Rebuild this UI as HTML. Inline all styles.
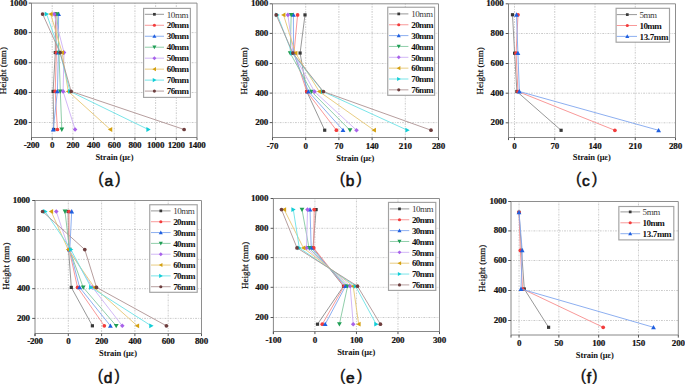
<!DOCTYPE html>
<html><head><meta charset="utf-8"><title>Strain vs Height</title>
<style>
html,body{margin:0;padding:0;background:#fff;}
body{width:685px;height:384px;overflow:hidden;font-family:"Liberation Serif", serif;}
svg{display:block;}
</style></head><body>
<svg width="685" height="384" viewBox="0 0 685 384"><g stroke="#bdbdbd" stroke-width="0.8" stroke-dasharray="0.9,1.2,1.8,1.2"><line x1="52.19" y1="3.1" x2="52.19" y2="137.5"/><line x1="72.88" y1="3.1" x2="72.88" y2="137.5"/><line x1="93.56" y1="3.1" x2="93.56" y2="137.5"/><line x1="114.25" y1="3.1" x2="114.25" y2="137.5"/><line x1="134.94" y1="3.1" x2="134.94" y2="137.5"/><line x1="155.62" y1="3.1" x2="155.62" y2="137.5"/><line x1="176.31" y1="3.1" x2="176.31" y2="137.5"/><line x1="31.5" y1="122.5" x2="197" y2="122.5"/><line x1="31.5" y1="92.5" x2="197" y2="92.5"/><line x1="31.5" y1="62.7" x2="197" y2="62.7"/><line x1="31.5" y1="32.6" x2="197" y2="32.6"/></g>
<path d="M31.5 3.1H197V137.5" fill="none" stroke="#8e8e8e" stroke-width="1.0"/>
<path d="M31.5 3.1V137.5H197" fill="none" stroke="#888" stroke-width="1.0"/>
<g stroke="#555" stroke-width="1.0"><line x1="31.5" y1="137.5" x2="31.5" y2="140.1"/><line x1="52.19" y1="137.5" x2="52.19" y2="140.1"/><line x1="72.88" y1="137.5" x2="72.88" y2="140.1"/><line x1="93.56" y1="137.5" x2="93.56" y2="140.1"/><line x1="114.25" y1="137.5" x2="114.25" y2="140.1"/><line x1="134.94" y1="137.5" x2="134.94" y2="140.1"/><line x1="155.62" y1="137.5" x2="155.62" y2="140.1"/><line x1="176.31" y1="137.5" x2="176.31" y2="140.1"/><line x1="197" y1="137.5" x2="197" y2="140.1"/><line x1="31.5" y1="137.5" x2="31.5" y2="140.1"/><line x1="28.7" y1="122.5" x2="31.5" y2="122.5"/><line x1="28.7" y1="92.5" x2="31.5" y2="92.5"/><line x1="28.7" y1="62.7" x2="31.5" y2="62.7"/><line x1="28.7" y1="32.6" x2="31.5" y2="32.6"/><line x1="28.7" y1="3.1" x2="31.5" y2="3.1"/></g>
<g font-family='"Liberation Serif", serif' font-weight="bold" font-size="9" letter-spacing="-0.2" fill="#111" stroke="#111" stroke-width="0.2"><text x="31.5" y="148.2" text-anchor="middle">-200</text><text x="52.19" y="148.2" text-anchor="middle">0</text><text x="72.88" y="148.2" text-anchor="middle">200</text><text x="93.56" y="148.2" text-anchor="middle">400</text><text x="114.25" y="148.2" text-anchor="middle">600</text><text x="134.94" y="148.2" text-anchor="middle">800</text><text x="155.62" y="148.2" text-anchor="middle">1000</text><text x="176.31" y="148.2" text-anchor="middle">1200</text><text x="197" y="148.2" text-anchor="middle">1400</text><text x="27" y="125" text-anchor="end">200</text><text x="27" y="95" text-anchor="end">400</text><text x="27" y="65.2" text-anchor="end">600</text><text x="27" y="35.1" text-anchor="end">800</text><text x="27" y="5.6" text-anchor="end">1000</text></g>
<text x="114.4" y="160.2" text-anchor="middle" font-family='"Liberation Serif", serif' font-weight="bold" font-size="8.5" letter-spacing="-0.08" fill="#111">Strain (&#956;&#949;)</text>
<text transform="translate(5.8 70.7) rotate(-90)" x="0" y="0" text-anchor="middle" font-family='"Liberation Serif", serif' font-size="9" letter-spacing="0.05" fill="#111" stroke="#111" stroke-width="0.22">Height (mm)</text>
<polyline points="55.5,14.1 55.3,52.6 53.1,91.4 53.8,129.5" fill="none" stroke="#8c8c8c" stroke-width="0.9"/>
<rect x="53.9" y="12.5" width="3.2" height="3.2" fill="#383838"/><rect x="53.7" y="51" width="3.2" height="3.2" fill="#383838"/><rect x="51.5" y="89.8" width="3.2" height="3.2" fill="#383838"/><rect x="52.2" y="127.9" width="3.2" height="3.2" fill="#383838"/>
<polyline points="56,14.1 56.4,52.6 55.2,91.4 57.4,129.5" fill="none" stroke="#f78d8d" stroke-width="0.9"/>
<circle cx="56" cy="14.1" r="1.85" fill="#f23c3c"/><circle cx="56.4" cy="52.6" r="1.85" fill="#f23c3c"/><circle cx="55.2" cy="91.4" r="1.85" fill="#f23c3c"/><circle cx="57.4" cy="129.5" r="1.85" fill="#f23c3c"/>
<polyline points="58.6,14.1 58.4,52.6 57.4,91.4 53.2,129.5" fill="none" stroke="#80a6ee" stroke-width="0.9"/>
<polygon points="58.6,11.7 61,16.02 56.2,16.02" fill="#1f5fe0"/><polygon points="58.4,50.2 60.8,54.52 56,54.52" fill="#1f5fe0"/><polygon points="57.4,89 59.8,93.32 55,93.32" fill="#1f5fe0"/><polygon points="53.2,127.1 55.6,131.42 50.8,131.42" fill="#1f5fe0"/>
<polyline points="57,14.1 59,52.6 60.3,91.4 61.8,129.5" fill="none" stroke="#83c8a0" stroke-width="0.9"/>
<polygon points="57,16.5 59.4,12.18 54.6,12.18" fill="#1f9e55"/><polygon points="59,55 61.4,50.68 56.6,50.68" fill="#1f9e55"/><polygon points="60.3,93.8 62.7,89.48 57.9,89.48" fill="#1f9e55"/><polygon points="61.8,131.9 64.2,127.58 59.4,127.58" fill="#1f9e55"/>
<polyline points="54.2,14.1 64,52.6 63.1,91.4 75.1,129.5" fill="none" stroke="#cdb0f5" stroke-width="0.9"/>
<polygon points="54.2,11.8 56.5,14.1 54.2,16.4 51.9,14.1" fill="#a862ea"/><polygon points="64,50.3 66.3,52.6 64,54.9 61.7,52.6" fill="#a862ea"/><polygon points="63.1,89.1 65.4,91.4 63.1,93.7 60.8,91.4" fill="#a862ea"/><polygon points="75.1,127.2 77.4,129.5 75.1,131.8 72.8,129.5" fill="#a862ea"/>
<polyline points="50.7,14.1 62.1,52.6 68.2,91.4 110.3,129.5" fill="none" stroke="#e6c774" stroke-width="0.9"/>
<polygon points="48.3,14.1 52.62,11.7 52.62,16.5" fill="#d4a010"/><polygon points="59.7,52.6 64.02,50.2 64.02,55" fill="#d4a010"/><polygon points="65.8,91.4 70.12,89 70.12,93.8" fill="#d4a010"/><polygon points="107.9,129.5 112.22,127.1 112.22,131.9" fill="#d4a010"/>
<polyline points="46.6,14.1 60,52.6 70,91.4 148.3,129.5" fill="none" stroke="#6ce2e6" stroke-width="0.9"/>
<polygon points="49,14.1 44.68,11.7 44.68,16.5" fill="#12cdd6"/><polygon points="62.4,52.6 58.08,50.2 58.08,55" fill="#12cdd6"/><polygon points="72.4,91.4 68.08,89 68.08,93.8" fill="#12cdd6"/><polygon points="150.7,129.5 146.38,127.1 146.38,131.9" fill="#12cdd6"/>
<polyline points="42.6,14.1 60.1,52.6 71.2,91.4 184.1,129.5" fill="none" stroke="#ae9393" stroke-width="0.9"/>
<circle cx="42.6" cy="14.1" r="1.85" fill="#6e3e3e"/><circle cx="60.1" cy="52.6" r="1.85" fill="#6e3e3e"/><circle cx="71.2" cy="91.4" r="1.85" fill="#6e3e3e"/><circle cx="184.1" cy="129.5" r="1.85" fill="#6e3e3e"/>
<rect x="143.6" y="8.4" width="46.8" height="89" fill="#fff" stroke="#a2a2a2" stroke-width="1.15"/>
<line x1="144.8" y1="14.3" x2="164" y2="14.3" stroke="#8c8c8c" stroke-width="0.9"/>
<rect x="153.04" y="12.94" width="2.72" height="2.72" fill="#383838"/>
<text x="166.8" y="17.5" font-family='"Liberation Serif", serif' font-size="9" letter-spacing="-0.45" fill="#3a3a3a">10mm</text>
<line x1="144.8" y1="25.27" x2="164" y2="25.27" stroke="#f78d8d" stroke-width="0.9"/>
<circle cx="154.4" cy="25.27" r="1.57" fill="#f23c3c"/>
<text x="166.8" y="28.47" font-family='"Liberation Serif", serif' font-weight="bold" font-size="9" letter-spacing="-0.6" fill="#111">20mm</text>
<line x1="144.8" y1="36.24" x2="164" y2="36.24" stroke="#80a6ee" stroke-width="0.9"/>
<polygon points="154.4,34.2 156.44,37.87 152.36,37.87" fill="#1f5fe0"/>
<text x="166.8" y="39.44" font-family='"Liberation Serif", serif' font-weight="bold" font-size="9" letter-spacing="-0.6" fill="#111">30mm</text>
<line x1="144.8" y1="47.21" x2="164" y2="47.21" stroke="#83c8a0" stroke-width="0.9"/>
<polygon points="154.4,49.25 156.44,45.58 152.36,45.58" fill="#1f9e55"/>
<text x="166.8" y="50.41" font-family='"Liberation Serif", serif' font-weight="bold" font-size="9" letter-spacing="-0.6" fill="#111">40mm</text>
<line x1="144.8" y1="58.18" x2="164" y2="58.18" stroke="#cdb0f5" stroke-width="0.9"/>
<polygon points="154.4,56.23 156.36,58.18 154.4,60.14 152.44,58.18" fill="#a862ea"/>
<text x="166.8" y="61.38" font-family='"Liberation Serif", serif' font-weight="bold" font-size="9" letter-spacing="-0.6" fill="#111">50mm</text>
<line x1="144.8" y1="69.15" x2="164" y2="69.15" stroke="#e6c774" stroke-width="0.9"/>
<polygon points="152.36,69.15 156.03,67.11 156.03,71.19" fill="#d4a010"/>
<text x="166.8" y="72.35" font-family='"Liberation Serif", serif' font-weight="bold" font-size="9" letter-spacing="-0.6" fill="#111">60mm</text>
<line x1="144.8" y1="80.12" x2="164" y2="80.12" stroke="#6ce2e6" stroke-width="0.9"/>
<polygon points="156.44,80.12 152.77,78.08 152.77,82.16" fill="#12cdd6"/>
<text x="166.8" y="83.32" font-family='"Liberation Serif", serif' font-weight="bold" font-size="9" letter-spacing="-0.6" fill="#111">70mm</text>
<line x1="144.8" y1="91.09" x2="164" y2="91.09" stroke="#ae9393" stroke-width="0.9"/>
<circle cx="154.4" cy="91.09" r="1.57" fill="#6e3e3e"/>
<text x="166.8" y="94.29" font-family='"Liberation Serif", serif' font-weight="bold" font-size="9" letter-spacing="-0.6" fill="#111">76mm</text>
<text x="109.45" y="185.1" text-anchor="middle" font-family='"Liberation Sans", sans-serif' font-size="16" fill="#111" stroke="#111" stroke-width="0.3"><tspan dy="-1.5">(</tspan><tspan font-size="15.5" stroke-width="0.6" dx="0.7" dy="1.9">a</tspan><tspan dx="2.2" dy="-1.9">)</tspan></text>
<g stroke="#bdbdbd" stroke-width="0.8" stroke-dasharray="0.9,1.2,1.8,1.2"><line x1="305.7" y1="3.8" x2="305.7" y2="137.5"/><line x1="338.9" y1="3.8" x2="338.9" y2="137.5"/><line x1="372.1" y1="3.8" x2="372.1" y2="137.5"/><line x1="405.3" y1="3.8" x2="405.3" y2="137.5"/><line x1="272.5" y1="122.6" x2="438.5" y2="122.6"/><line x1="272.5" y1="93.1" x2="438.5" y2="93.1"/><line x1="272.5" y1="63.5" x2="438.5" y2="63.5"/><line x1="272.5" y1="33.4" x2="438.5" y2="33.4"/></g>
<path d="M272.5 3.8H438.5V137.5" fill="none" stroke="#8e8e8e" stroke-width="1.0"/>
<path d="M272.5 3.8V137.5H438.5" fill="none" stroke="#888" stroke-width="1.0"/>
<g stroke="#555" stroke-width="1.0"><line x1="272.5" y1="137.5" x2="272.5" y2="140.1"/><line x1="305.7" y1="137.5" x2="305.7" y2="140.1"/><line x1="338.9" y1="137.5" x2="338.9" y2="140.1"/><line x1="372.1" y1="137.5" x2="372.1" y2="140.1"/><line x1="405.3" y1="137.5" x2="405.3" y2="140.1"/><line x1="438.5" y1="137.5" x2="438.5" y2="140.1"/><line x1="272.5" y1="137.5" x2="272.5" y2="140.1"/><line x1="269.7" y1="122.6" x2="272.5" y2="122.6"/><line x1="269.7" y1="93.1" x2="272.5" y2="93.1"/><line x1="269.7" y1="63.5" x2="272.5" y2="63.5"/><line x1="269.7" y1="33.4" x2="272.5" y2="33.4"/><line x1="269.7" y1="3.8" x2="272.5" y2="3.8"/></g>
<g font-family='"Liberation Serif", serif' font-weight="bold" font-size="9" letter-spacing="-0.2" fill="#111" stroke="#111" stroke-width="0.2"><text x="272.5" y="148.7" text-anchor="middle">-70</text><text x="305.7" y="148.7" text-anchor="middle">0</text><text x="338.9" y="148.7" text-anchor="middle">70</text><text x="372.1" y="148.7" text-anchor="middle">140</text><text x="405.3" y="148.7" text-anchor="middle">210</text><text x="438.5" y="148.7" text-anchor="middle">280</text><text x="268.1" y="125.1" text-anchor="end">200</text><text x="268.1" y="95.6" text-anchor="end">400</text><text x="268.1" y="66" text-anchor="end">600</text><text x="268.1" y="35.9" text-anchor="end">800</text><text x="268.1" y="6.3" text-anchor="end">1000</text></g>
<text x="355.3" y="160.8" text-anchor="middle" font-family='"Liberation Serif", serif' font-weight="bold" font-size="8.5" letter-spacing="-0.08" fill="#111">Strain (&#956;&#949;)</text>
<text transform="translate(246.6 70.9) rotate(-90)" x="0" y="0" text-anchor="middle" font-family='"Liberation Serif", serif' font-size="9" letter-spacing="0.05" fill="#111" stroke="#111" stroke-width="0.22">Height (mm)</text>
<polyline points="305,14.9 300.1,53.05 306.8,91.6 324.7,130.2" fill="none" stroke="#8c8c8c" stroke-width="0.9"/>
<rect x="303.4" y="13.3" width="3.2" height="3.2" fill="#383838"/><rect x="298.5" y="51.45" width="3.2" height="3.2" fill="#383838"/><rect x="305.2" y="90" width="3.2" height="3.2" fill="#383838"/><rect x="323.1" y="128.6" width="3.2" height="3.2" fill="#383838"/>
<polyline points="297.6,14.9 294,53.05 306.8,91.6 336.4,130.2" fill="none" stroke="#f78d8d" stroke-width="0.9"/>
<circle cx="297.6" cy="14.9" r="1.85" fill="#f23c3c"/><circle cx="294" cy="53.05" r="1.85" fill="#f23c3c"/><circle cx="306.8" cy="91.6" r="1.85" fill="#f23c3c"/><circle cx="336.4" cy="130.2" r="1.85" fill="#f23c3c"/>
<polyline points="293.4,14.9 293.5,53.05 308.5,91.6 343,130.2" fill="none" stroke="#80a6ee" stroke-width="0.9"/>
<polygon points="293.4,12.5 295.8,16.82 291,16.82" fill="#1f5fe0"/><polygon points="293.5,50.65 295.9,54.97 291.1,54.97" fill="#1f5fe0"/><polygon points="308.5,89.2 310.9,93.52 306.1,93.52" fill="#1f5fe0"/><polygon points="343,127.8 345.4,132.12 340.6,132.12" fill="#1f5fe0"/>
<polyline points="291.2,14.9 290.2,53.05 311.5,91.6 350,130.2" fill="none" stroke="#83c8a0" stroke-width="0.9"/>
<polygon points="291.2,17.3 293.6,12.98 288.8,12.98" fill="#1f9e55"/><polygon points="290.2,55.45 292.6,51.13 287.8,51.13" fill="#1f9e55"/><polygon points="311.5,94 313.9,89.68 309.1,89.68" fill="#1f9e55"/><polygon points="350,132.6 352.4,128.28 347.6,128.28" fill="#1f9e55"/>
<polyline points="287.9,14.9 293,53.05 314.5,91.6 356.5,130.2" fill="none" stroke="#cdb0f5" stroke-width="0.9"/>
<polygon points="287.9,12.6 290.2,14.9 287.9,17.2 285.6,14.9" fill="#a862ea"/><polygon points="293,50.75 295.3,53.05 293,55.35 290.7,53.05" fill="#a862ea"/><polygon points="314.5,89.3 316.8,91.6 314.5,93.9 312.2,91.6" fill="#a862ea"/><polygon points="356.5,127.9 358.8,130.2 356.5,132.5 354.2,130.2" fill="#a862ea"/>
<polyline points="283.5,14.9 295.5,53.05 319.3,91.6 374,130.2" fill="none" stroke="#e6c774" stroke-width="0.9"/>
<polygon points="281.1,14.9 285.42,12.5 285.42,17.3" fill="#d4a010"/><polygon points="293.1,53.05 297.42,50.65 297.42,55.45" fill="#d4a010"/><polygon points="316.9,91.6 321.22,89.2 321.22,94" fill="#d4a010"/><polygon points="371.6,130.2 375.92,127.8 375.92,132.6" fill="#d4a010"/>
<polyline points="277.3,14.9 292,53.05 323,91.6 407.3,130.2" fill="none" stroke="#6ce2e6" stroke-width="0.9"/>
<polygon points="279.7,14.9 275.38,12.5 275.38,17.3" fill="#12cdd6"/><polygon points="294.4,53.05 290.08,50.65 290.08,55.45" fill="#12cdd6"/><polygon points="325.4,91.6 321.08,89.2 321.08,94" fill="#12cdd6"/><polygon points="409.7,130.2 405.38,127.8 405.38,132.6" fill="#12cdd6"/>
<polyline points="276.2,14.9 292.8,53.05 323.4,91.6 431,130.2" fill="none" stroke="#ae9393" stroke-width="0.9"/>
<circle cx="276.2" cy="14.9" r="1.85" fill="#6e3e3e"/><circle cx="292.8" cy="53.05" r="1.85" fill="#6e3e3e"/><circle cx="323.4" cy="91.6" r="1.85" fill="#6e3e3e"/><circle cx="431" cy="130.2" r="1.85" fill="#6e3e3e"/>
<rect x="387.75" y="7.25" width="46.85" height="88.05" fill="#fff" stroke="#a2a2a2" stroke-width="1.15"/>
<line x1="389" y1="13.9" x2="408.4" y2="13.9" stroke="#8c8c8c" stroke-width="0.9"/>
<rect x="397.39" y="12.54" width="2.72" height="2.72" fill="#383838"/>
<text x="411.25" y="17.1" font-family='"Liberation Serif", serif' font-size="9" letter-spacing="-0.45" fill="#3a3a3a">10mm</text>
<line x1="389" y1="24.75" x2="408.4" y2="24.75" stroke="#f78d8d" stroke-width="0.9"/>
<circle cx="398.75" cy="24.75" r="1.57" fill="#f23c3c"/>
<text x="411.25" y="27.95" font-family='"Liberation Serif", serif' font-weight="bold" font-size="9" letter-spacing="-0.6" fill="#111">20mm</text>
<line x1="389" y1="35.6" x2="408.4" y2="35.6" stroke="#80a6ee" stroke-width="0.9"/>
<polygon points="398.75,33.56 400.79,37.23 396.71,37.23" fill="#1f5fe0"/>
<text x="411.25" y="38.8" font-family='"Liberation Serif", serif' font-weight="bold" font-size="9" letter-spacing="-0.6" fill="#111">30mm</text>
<line x1="389" y1="46.45" x2="408.4" y2="46.45" stroke="#83c8a0" stroke-width="0.9"/>
<polygon points="398.75,48.49 400.79,44.82 396.71,44.82" fill="#1f9e55"/>
<text x="411.25" y="49.65" font-family='"Liberation Serif", serif' font-weight="bold" font-size="9" letter-spacing="-0.6" fill="#111">40mm</text>
<line x1="389" y1="57.3" x2="408.4" y2="57.3" stroke="#cdb0f5" stroke-width="0.9"/>
<polygon points="398.75,55.34 400.7,57.3 398.75,59.25 396.8,57.3" fill="#a862ea"/>
<text x="411.25" y="60.5" font-family='"Liberation Serif", serif' font-weight="bold" font-size="9" letter-spacing="-0.6" fill="#111">50mm</text>
<line x1="389" y1="68.15" x2="408.4" y2="68.15" stroke="#e6c774" stroke-width="0.9"/>
<polygon points="396.71,68.15 400.38,66.11 400.38,70.19" fill="#d4a010"/>
<text x="411.25" y="71.35" font-family='"Liberation Serif", serif' font-weight="bold" font-size="9" letter-spacing="-0.6" fill="#111">60mm</text>
<line x1="389" y1="79" x2="408.4" y2="79" stroke="#6ce2e6" stroke-width="0.9"/>
<polygon points="400.79,79 397.12,76.96 397.12,81.04" fill="#12cdd6"/>
<text x="411.25" y="82.2" font-family='"Liberation Serif", serif' font-weight="bold" font-size="9" letter-spacing="-0.6" fill="#111">70mm</text>
<line x1="389" y1="89.85" x2="408.4" y2="89.85" stroke="#ae9393" stroke-width="0.9"/>
<circle cx="398.75" cy="89.85" r="1.57" fill="#6e3e3e"/>
<text x="411.25" y="93.05" font-family='"Liberation Serif", serif' font-weight="bold" font-size="9" letter-spacing="-0.6" fill="#111">76mm</text>
<text x="350.75" y="185.2" text-anchor="middle" font-family='"Liberation Sans", sans-serif' font-size="16" fill="#111" stroke="#111" stroke-width="0.3"><tspan dy="-1.5">(</tspan><tspan font-size="15.5" stroke-width="0.6" dx="0.7" dy="1.9">b</tspan><tspan dx="2.2" dy="-1.9">)</tspan></text>
<g stroke="#bdbdbd" stroke-width="0.8" stroke-dasharray="0.9,1.2,1.8,1.2"><line x1="514.51" y1="3.8" x2="514.51" y2="137.5"/><line x1="554.76" y1="3.8" x2="554.76" y2="137.5"/><line x1="595" y1="3.8" x2="595" y2="137.5"/><line x1="635.25" y1="3.8" x2="635.25" y2="137.5"/><line x1="508.5" y1="122.8" x2="675.5" y2="122.8"/><line x1="508.5" y1="93.2" x2="675.5" y2="93.2"/><line x1="508.5" y1="63.5" x2="675.5" y2="63.5"/><line x1="508.5" y1="33.5" x2="675.5" y2="33.5"/></g>
<path d="M508.5 3.8H675.5V137.5" fill="none" stroke="#8e8e8e" stroke-width="1.0"/>
<path d="M508.5 3.8V137.5H675.5" fill="none" stroke="#888" stroke-width="1.0"/>
<g stroke="#555" stroke-width="1.0"><line x1="514.51" y1="137.5" x2="514.51" y2="140.1"/><line x1="554.76" y1="137.5" x2="554.76" y2="140.1"/><line x1="595" y1="137.5" x2="595" y2="140.1"/><line x1="635.25" y1="137.5" x2="635.25" y2="140.1"/><line x1="675.5" y1="137.5" x2="675.5" y2="140.1"/><line x1="508.5" y1="137.5" x2="508.5" y2="140.1"/><line x1="505.7" y1="122.8" x2="508.5" y2="122.8"/><line x1="505.7" y1="93.2" x2="508.5" y2="93.2"/><line x1="505.7" y1="63.5" x2="508.5" y2="63.5"/><line x1="505.7" y1="33.5" x2="508.5" y2="33.5"/><line x1="505.7" y1="3.8" x2="508.5" y2="3.8"/></g>
<g font-family='"Liberation Serif", serif' font-weight="bold" font-size="9" letter-spacing="-0.2" fill="#111" stroke="#111" stroke-width="0.2"><text x="514.51" y="148.7" text-anchor="middle">0</text><text x="554.76" y="148.7" text-anchor="middle">70</text><text x="595" y="148.7" text-anchor="middle">140</text><text x="635.25" y="148.7" text-anchor="middle">210</text><text x="675.5" y="148.7" text-anchor="middle">280</text><text x="503.5" y="125.3" text-anchor="end">200</text><text x="503.5" y="95.7" text-anchor="end">400</text><text x="503.5" y="66" text-anchor="end">600</text><text x="503.5" y="36" text-anchor="end">800</text><text x="503.5" y="6.3" text-anchor="end">1000</text></g>
<text x="591.8" y="160.4" text-anchor="middle" font-family='"Liberation Serif", serif' font-weight="bold" font-size="8.5" letter-spacing="-0.08" fill="#111">Strain (&#956;&#949;)</text>
<text transform="translate(482.7 70.9) rotate(-90)" x="0" y="0" text-anchor="middle" font-family='"Liberation Serif", serif' font-size="9" letter-spacing="0.05" fill="#111" stroke="#111" stroke-width="0.22">Height (mm)</text>
<polyline points="512.5,14.75 514.6,53.2 516.9,91.5 561.1,130.3" fill="none" stroke="#8c8c8c" stroke-width="0.9"/>
<rect x="510.9" y="13.15" width="3.2" height="3.2" fill="#383838"/><rect x="513" y="51.6" width="3.2" height="3.2" fill="#383838"/><rect x="515.3" y="89.9" width="3.2" height="3.2" fill="#383838"/><rect x="559.5" y="128.7" width="3.2" height="3.2" fill="#383838"/>
<polyline points="518,14.75 516.1,53.2 517.9,91.5 614.9,130.3" fill="none" stroke="#f78d8d" stroke-width="0.9"/>
<circle cx="518" cy="14.75" r="1.85" fill="#f23c3c"/><circle cx="516.1" cy="53.2" r="1.85" fill="#f23c3c"/><circle cx="517.9" cy="91.5" r="1.85" fill="#f23c3c"/><circle cx="614.9" cy="130.3" r="1.85" fill="#f23c3c"/>
<polyline points="516.5,14.75 517.9,53.2 519.4,91.5 658.6,130.3" fill="none" stroke="#80a6ee" stroke-width="0.9"/>
<polygon points="516.5,12.35 518.9,16.67 514.1,16.67" fill="#1f5fe0"/><polygon points="517.9,50.8 520.3,55.12 515.5,55.12" fill="#1f5fe0"/><polygon points="519.4,89.1 521.8,93.42 517,93.42" fill="#1f5fe0"/><polygon points="658.6,127.9 661,132.22 656.2,132.22" fill="#1f5fe0"/>
<rect x="616.1" y="8.3" width="53.4" height="33.9" fill="#fff" stroke="#a2a2a2" stroke-width="1.15"/>
<line x1="616.7" y1="14.6" x2="637" y2="14.6" stroke="#8c8c8c" stroke-width="0.9"/>
<rect x="625.94" y="13.24" width="2.72" height="2.72" fill="#383838"/>
<text x="639.5" y="17.8" font-family='"Liberation Serif", serif' font-size="9" letter-spacing="-0.45" fill="#3a3a3a">5mm</text>
<line x1="616.7" y1="25.5" x2="637" y2="25.5" stroke="#f78d8d" stroke-width="0.9"/>
<circle cx="627.3" cy="25.5" r="1.57" fill="#f23c3c"/>
<text x="639.5" y="28.7" font-family='"Liberation Serif", serif' font-weight="bold" font-size="9" letter-spacing="-0.6" fill="#111">10mm</text>
<line x1="616.7" y1="36.4" x2="637" y2="36.4" stroke="#80a6ee" stroke-width="0.9"/>
<polygon points="627.3,34.36 629.34,38.03 625.26,38.03" fill="#1f5fe0"/>
<text x="639.5" y="39.6" font-family='"Liberation Serif", serif' font-weight="bold" font-size="9" letter-spacing="-0.35" fill="#111">13.7mm</text>
<text x="586.55" y="185.2" text-anchor="middle" font-family='"Liberation Sans", sans-serif' font-size="16" fill="#111" stroke="#111" stroke-width="0.3"><tspan dy="-1.5">(</tspan><tspan font-size="15.5" stroke-width="0.6" dx="0.7" dy="1.9">c</tspan><tspan dx="2.2" dy="-1.9">)</tspan></text>
<g stroke="#bdbdbd" stroke-width="0.8" stroke-dasharray="0.9,1.2,1.8,1.2"><line x1="68.3" y1="200.5" x2="68.3" y2="333.5"/><line x1="101.6" y1="200.5" x2="101.6" y2="333.5"/><line x1="134.9" y1="200.5" x2="134.9" y2="333.5"/><line x1="168.2" y1="200.5" x2="168.2" y2="333.5"/><line x1="35" y1="318.4" x2="201.5" y2="318.4"/><line x1="35" y1="288.7" x2="201.5" y2="288.7"/><line x1="35" y1="259.4" x2="201.5" y2="259.4"/><line x1="35" y1="229.5" x2="201.5" y2="229.5"/></g>
<path d="M35 200.5H201.5V333.5" fill="none" stroke="#8e8e8e" stroke-width="1.0"/>
<path d="M35 200.5V333.5H201.5" fill="none" stroke="#888" stroke-width="1.0"/>
<g stroke="#555" stroke-width="1.0"><line x1="35" y1="333.5" x2="35" y2="336.1"/><line x1="68.3" y1="333.5" x2="68.3" y2="336.1"/><line x1="101.6" y1="333.5" x2="101.6" y2="336.1"/><line x1="134.9" y1="333.5" x2="134.9" y2="336.1"/><line x1="168.2" y1="333.5" x2="168.2" y2="336.1"/><line x1="201.5" y1="333.5" x2="201.5" y2="336.1"/><line x1="35" y1="333.5" x2="35" y2="336.1"/><line x1="32.2" y1="318.4" x2="35" y2="318.4"/><line x1="32.2" y1="288.7" x2="35" y2="288.7"/><line x1="32.2" y1="259.4" x2="35" y2="259.4"/><line x1="32.2" y1="229.5" x2="35" y2="229.5"/><line x1="32.2" y1="200.5" x2="35" y2="200.5"/></g>
<g font-family='"Liberation Serif", serif' font-weight="bold" font-size="9" letter-spacing="-0.2" fill="#111" stroke="#111" stroke-width="0.2"><text x="35" y="344.4" text-anchor="middle">-200</text><text x="68.3" y="344.4" text-anchor="middle">0</text><text x="101.6" y="344.4" text-anchor="middle">200</text><text x="134.9" y="344.4" text-anchor="middle">400</text><text x="168.2" y="344.4" text-anchor="middle">600</text><text x="201.5" y="344.4" text-anchor="middle">800</text><text x="29.9" y="320.9" text-anchor="end">200</text><text x="29.9" y="291.2" text-anchor="end">400</text><text x="29.9" y="261.9" text-anchor="end">600</text><text x="29.9" y="232" text-anchor="end">800</text><text x="29.9" y="203" text-anchor="end">1000</text></g>
<text x="118" y="356.1" text-anchor="middle" font-family='"Liberation Serif", serif' font-weight="bold" font-size="8.5" letter-spacing="-0.08" fill="#111">Strain (&#956;&#949;)</text>
<text transform="translate(9.2 266.2) rotate(-90)" x="0" y="0" text-anchor="middle" font-family='"Liberation Serif", serif' font-size="9" letter-spacing="0.05" fill="#111" stroke="#111" stroke-width="0.22">Height (mm)</text>
<polyline points="68.1,211.5 68.6,249.6 71.3,287.4 92.4,325.8" fill="none" stroke="#8c8c8c" stroke-width="0.9"/>
<rect x="66.5" y="209.9" width="3.2" height="3.2" fill="#383838"/><rect x="67" y="248" width="3.2" height="3.2" fill="#383838"/><rect x="69.7" y="285.8" width="3.2" height="3.2" fill="#383838"/><rect x="90.8" y="324.2" width="3.2" height="3.2" fill="#383838"/>
<polyline points="69,211.5 69.2,249.6 77.5,287.4 104.3,325.8" fill="none" stroke="#f78d8d" stroke-width="0.9"/>
<circle cx="69" cy="211.5" r="1.85" fill="#f23c3c"/><circle cx="69.2" cy="249.6" r="1.85" fill="#f23c3c"/><circle cx="77.5" cy="287.4" r="1.85" fill="#f23c3c"/><circle cx="104.3" cy="325.8" r="1.85" fill="#f23c3c"/>
<polyline points="71.7,211.5 69.8,249.6 79.6,287.4 110.4,325.8" fill="none" stroke="#80a6ee" stroke-width="0.9"/>
<polygon points="71.7,209.1 74.1,213.42 69.3,213.42" fill="#1f5fe0"/><polygon points="69.8,247.2 72.2,251.52 67.4,251.52" fill="#1f5fe0"/><polygon points="79.6,285 82,289.32 77.2,289.32" fill="#1f5fe0"/><polygon points="110.4,323.4 112.8,327.72 108,327.72" fill="#1f5fe0"/>
<polyline points="65,211.5 69.5,249.6 83.2,287.4 116.2,325.8" fill="none" stroke="#83c8a0" stroke-width="0.9"/>
<polygon points="65,213.9 67.4,209.58 62.6,209.58" fill="#1f9e55"/><polygon points="69.5,252 71.9,247.68 67.1,247.68" fill="#1f9e55"/><polygon points="83.2,289.8 85.6,285.48 80.8,285.48" fill="#1f9e55"/><polygon points="116.2,328.2 118.6,323.88 113.8,323.88" fill="#1f9e55"/>
<polyline points="56.3,211.5 69,249.6 92.5,287.4 122.3,325.8" fill="none" stroke="#cdb0f5" stroke-width="0.9"/>
<polygon points="56.3,209.2 58.6,211.5 56.3,213.8 54,211.5" fill="#a862ea"/><polygon points="69,247.3 71.3,249.6 69,251.9 66.7,249.6" fill="#a862ea"/><polygon points="92.5,285.1 94.8,287.4 92.5,289.7 90.2,287.4" fill="#a862ea"/><polygon points="122.3,323.5 124.6,325.8 122.3,328.1 120,325.8" fill="#a862ea"/>
<polyline points="51.2,211.5 68.2,249.6 94.3,287.4 137.2,325.8" fill="none" stroke="#e6c774" stroke-width="0.9"/>
<polygon points="48.8,211.5 53.12,209.1 53.12,213.9" fill="#d4a010"/><polygon points="65.8,249.6 70.12,247.2 70.12,252" fill="#d4a010"/><polygon points="91.9,287.4 96.22,285 96.22,289.8" fill="#d4a010"/><polygon points="134.8,325.8 139.12,323.4 139.12,328.2" fill="#d4a010"/>
<polyline points="45.2,211.5 70.9,249.6 91,287.4 151.2,325.8" fill="none" stroke="#6ce2e6" stroke-width="0.9"/>
<polygon points="47.6,211.5 43.28,209.1 43.28,213.9" fill="#12cdd6"/><polygon points="73.3,249.6 68.98,247.2 68.98,252" fill="#12cdd6"/><polygon points="93.4,287.4 89.08,285 89.08,289.8" fill="#12cdd6"/><polygon points="153.6,325.8 149.28,323.4 149.28,328.2" fill="#12cdd6"/>
<polyline points="42.6,211.5 84.8,249.6 96.5,287.4 166.4,325.8" fill="none" stroke="#ae9393" stroke-width="0.9"/>
<circle cx="42.6" cy="211.5" r="1.85" fill="#6e3e3e"/><circle cx="84.8" cy="249.6" r="1.85" fill="#6e3e3e"/><circle cx="96.5" cy="287.4" r="1.85" fill="#6e3e3e"/><circle cx="166.4" cy="325.8" r="1.85" fill="#6e3e3e"/>
<rect x="149.75" y="204.75" width="47.45" height="87.55" fill="#fff" stroke="#a2a2a2" stroke-width="1.15"/>
<line x1="151" y1="210.9" x2="170.6" y2="210.9" stroke="#8c8c8c" stroke-width="0.9"/>
<rect x="159.44" y="209.54" width="2.72" height="2.72" fill="#383838"/>
<text x="173.2" y="214.1" font-family='"Liberation Serif", serif' font-size="9" letter-spacing="-0.45" fill="#3a3a3a">10mm</text>
<line x1="151" y1="221.73" x2="170.6" y2="221.73" stroke="#f78d8d" stroke-width="0.9"/>
<circle cx="160.8" cy="221.73" r="1.57" fill="#f23c3c"/>
<text x="173.2" y="224.93" font-family='"Liberation Serif", serif' font-weight="bold" font-size="9" letter-spacing="-0.6" fill="#111">20mm</text>
<line x1="151" y1="232.56" x2="170.6" y2="232.56" stroke="#80a6ee" stroke-width="0.9"/>
<polygon points="160.8,230.52 162.84,234.19 158.76,234.19" fill="#1f5fe0"/>
<text x="173.2" y="235.76" font-family='"Liberation Serif", serif' font-weight="bold" font-size="9" letter-spacing="-0.6" fill="#111">30mm</text>
<line x1="151" y1="243.39" x2="170.6" y2="243.39" stroke="#83c8a0" stroke-width="0.9"/>
<polygon points="160.8,245.43 162.84,241.76 158.76,241.76" fill="#1f9e55"/>
<text x="173.2" y="246.59" font-family='"Liberation Serif", serif' font-weight="bold" font-size="9" letter-spacing="-0.6" fill="#111">40mm</text>
<line x1="151" y1="254.22" x2="170.6" y2="254.22" stroke="#cdb0f5" stroke-width="0.9"/>
<polygon points="160.8,252.26 162.76,254.22 160.8,256.18 158.84,254.22" fill="#a862ea"/>
<text x="173.2" y="257.42" font-family='"Liberation Serif", serif' font-weight="bold" font-size="9" letter-spacing="-0.6" fill="#111">50mm</text>
<line x1="151" y1="265.05" x2="170.6" y2="265.05" stroke="#e6c774" stroke-width="0.9"/>
<polygon points="158.76,265.05 162.43,263.01 162.43,267.09" fill="#d4a010"/>
<text x="173.2" y="268.25" font-family='"Liberation Serif", serif' font-weight="bold" font-size="9" letter-spacing="-0.6" fill="#111">60mm</text>
<line x1="151" y1="275.88" x2="170.6" y2="275.88" stroke="#6ce2e6" stroke-width="0.9"/>
<polygon points="162.84,275.88 159.17,273.84 159.17,277.92" fill="#12cdd6"/>
<text x="173.2" y="279.08" font-family='"Liberation Serif", serif' font-weight="bold" font-size="9" letter-spacing="-0.6" fill="#111">70mm</text>
<line x1="151" y1="286.71" x2="170.6" y2="286.71" stroke="#ae9393" stroke-width="0.9"/>
<circle cx="160.8" cy="286.71" r="1.57" fill="#6e3e3e"/>
<text x="173.2" y="289.91" font-family='"Liberation Serif", serif' font-weight="bold" font-size="9" letter-spacing="-0.6" fill="#111">76mm</text>
<text x="108.75" y="382.2" text-anchor="middle" font-family='"Liberation Sans", sans-serif' font-size="16" fill="#111" stroke="#111" stroke-width="0.3"><tspan dy="-1.5">(</tspan><tspan font-size="15.5" stroke-width="0.6" dx="0.7" dy="1.9">d</tspan><tspan dx="2.2" dy="-1.9">)</tspan></text>
<g stroke="#bdbdbd" stroke-width="0.8" stroke-dasharray="0.9,1.2,1.8,1.2"><line x1="314.92" y1="198.5" x2="314.92" y2="331.5"/><line x1="356.45" y1="198.5" x2="356.45" y2="331.5"/><line x1="397.98" y1="198.5" x2="397.98" y2="331.5"/><line x1="273.4" y1="317.5" x2="439.5" y2="317.5"/><line x1="273.4" y1="287.3" x2="439.5" y2="287.3"/><line x1="273.4" y1="257.6" x2="439.5" y2="257.6"/><line x1="273.4" y1="228.3" x2="439.5" y2="228.3"/></g>
<path d="M273.4 198.5H439.5V331.5" fill="none" stroke="#8e8e8e" stroke-width="1.0"/>
<path d="M273.4 198.5V331.5H439.5" fill="none" stroke="#888" stroke-width="1.0"/>
<g stroke="#555" stroke-width="1.0"><line x1="273.4" y1="331.5" x2="273.4" y2="334.1"/><line x1="314.92" y1="331.5" x2="314.92" y2="334.1"/><line x1="356.45" y1="331.5" x2="356.45" y2="334.1"/><line x1="397.98" y1="331.5" x2="397.98" y2="334.1"/><line x1="439.5" y1="331.5" x2="439.5" y2="334.1"/><line x1="273.4" y1="331.5" x2="273.4" y2="334.1"/><line x1="270.6" y1="317.5" x2="273.4" y2="317.5"/><line x1="270.6" y1="287.3" x2="273.4" y2="287.3"/><line x1="270.6" y1="257.6" x2="273.4" y2="257.6"/><line x1="270.6" y1="228.3" x2="273.4" y2="228.3"/><line x1="270.6" y1="198.5" x2="273.4" y2="198.5"/></g>
<g font-family='"Liberation Serif", serif' font-weight="bold" font-size="9" letter-spacing="-0.2" fill="#111" stroke="#111" stroke-width="0.2"><text x="273.4" y="343" text-anchor="middle">-100</text><text x="314.92" y="343" text-anchor="middle">0</text><text x="356.45" y="343" text-anchor="middle">100</text><text x="397.98" y="343" text-anchor="middle">200</text><text x="439.5" y="343" text-anchor="middle">300</text><text x="268.2" y="320" text-anchor="end">200</text><text x="268.2" y="289.8" text-anchor="end">400</text><text x="268.2" y="260.1" text-anchor="end">600</text><text x="268.2" y="230.8" text-anchor="end">800</text><text x="268.2" y="201" text-anchor="end">1000</text></g>
<text x="356.2" y="355.3" text-anchor="middle" font-family='"Liberation Serif", serif' font-weight="bold" font-size="8.5" letter-spacing="-0.08" fill="#111">Strain (&#956;&#949;)</text>
<text transform="translate(247.5 265.4) rotate(-90)" x="0" y="0" text-anchor="middle" font-family='"Liberation Serif", serif' font-size="9" letter-spacing="0.05" fill="#111" stroke="#111" stroke-width="0.22">Height (mm)</text>
<polyline points="316.1,209.6 313,247.9 343.5,286.2 317.5,324.2" fill="none" stroke="#8c8c8c" stroke-width="0.9"/>
<rect x="314.5" y="208" width="3.2" height="3.2" fill="#383838"/><rect x="311.4" y="246.3" width="3.2" height="3.2" fill="#383838"/><rect x="341.9" y="284.6" width="3.2" height="3.2" fill="#383838"/><rect x="315.9" y="322.6" width="3.2" height="3.2" fill="#383838"/>
<polyline points="314.2,209.6 313.7,247.9 344.1,286.2 322.3,324.2" fill="none" stroke="#f78d8d" stroke-width="0.9"/>
<circle cx="314.2" cy="209.6" r="1.85" fill="#f23c3c"/><circle cx="313.7" cy="247.9" r="1.85" fill="#f23c3c"/><circle cx="344.1" cy="286.2" r="1.85" fill="#f23c3c"/><circle cx="322.3" cy="324.2" r="1.85" fill="#f23c3c"/>
<polyline points="310,209.6 311.2,247.9 345.5,286.2 325.2,324.2" fill="none" stroke="#80a6ee" stroke-width="0.9"/>
<polygon points="310,207.2 312.4,211.52 307.6,211.52" fill="#1f5fe0"/><polygon points="311.2,245.5 313.6,249.82 308.8,249.82" fill="#1f5fe0"/><polygon points="345.5,283.8 347.9,288.12 343.1,288.12" fill="#1f5fe0"/><polygon points="325.2,321.8 327.6,326.12 322.8,326.12" fill="#1f5fe0"/>
<polyline points="302,209.6 309,247.9 347.6,286.2 339.4,324.2" fill="none" stroke="#83c8a0" stroke-width="0.9"/>
<polygon points="302,212 304.4,207.68 299.6,207.68" fill="#1f9e55"/><polygon points="309,250.3 311.4,245.98 306.6,245.98" fill="#1f9e55"/><polygon points="347.6,288.6 350,284.28 345.2,284.28" fill="#1f9e55"/><polygon points="339.4,326.6 341.8,322.28 337,322.28" fill="#1f9e55"/>
<polyline points="307.5,209.6 306.5,247.9 350.2,286.2 353.2,324.2" fill="none" stroke="#cdb0f5" stroke-width="0.9"/>
<polygon points="307.5,207.3 309.8,209.6 307.5,211.9 305.2,209.6" fill="#a862ea"/><polygon points="306.5,245.6 308.8,247.9 306.5,250.2 304.2,247.9" fill="#a862ea"/><polygon points="350.2,283.9 352.5,286.2 350.2,288.5 347.9,286.2" fill="#a862ea"/><polygon points="353.2,321.9 355.5,324.2 353.2,326.5 350.9,324.2" fill="#a862ea"/>
<polyline points="284.2,209.6 303.4,247.9 353.2,286.2 358.7,324.2" fill="none" stroke="#e6c774" stroke-width="0.9"/>
<polygon points="281.8,209.6 286.12,207.2 286.12,212" fill="#d4a010"/><polygon points="301,247.9 305.32,245.5 305.32,250.3" fill="#d4a010"/><polygon points="350.8,286.2 355.12,283.8 355.12,288.6" fill="#d4a010"/><polygon points="356.3,324.2 360.62,321.8 360.62,326.6" fill="#d4a010"/>
<polyline points="293.3,209.6 299.3,247.9 355.6,286.2 376.2,324.2" fill="none" stroke="#6ce2e6" stroke-width="0.9"/>
<polygon points="295.7,209.6 291.38,207.2 291.38,212" fill="#12cdd6"/><polygon points="301.7,247.9 297.38,245.5 297.38,250.3" fill="#12cdd6"/><polygon points="358,286.2 353.68,283.8 353.68,288.6" fill="#12cdd6"/><polygon points="378.6,324.2 374.28,321.8 374.28,326.6" fill="#12cdd6"/>
<polyline points="281.5,209.6 297,247.9 357.5,286.2 380.4,324.2" fill="none" stroke="#ae9393" stroke-width="0.9"/>
<circle cx="281.5" cy="209.6" r="1.85" fill="#6e3e3e"/><circle cx="297" cy="247.9" r="1.85" fill="#6e3e3e"/><circle cx="357.5" cy="286.2" r="1.85" fill="#6e3e3e"/><circle cx="380.4" cy="324.2" r="1.85" fill="#6e3e3e"/>
<rect x="388.5" y="202.4" width="47.3" height="88" fill="#fff" stroke="#a2a2a2" stroke-width="1.15"/>
<line x1="389.75" y1="208.9" x2="409.25" y2="208.9" stroke="#8c8c8c" stroke-width="0.9"/>
<rect x="398.14" y="207.54" width="2.72" height="2.72" fill="#383838"/>
<text x="411.9" y="212.1" font-family='"Liberation Serif", serif' font-size="9" letter-spacing="-0.45" fill="#3a3a3a">10mm</text>
<line x1="389.75" y1="219.76" x2="409.25" y2="219.76" stroke="#f78d8d" stroke-width="0.9"/>
<circle cx="399.5" cy="219.76" r="1.57" fill="#f23c3c"/>
<text x="411.9" y="222.96" font-family='"Liberation Serif", serif' font-weight="bold" font-size="9" letter-spacing="-0.6" fill="#111">20mm</text>
<line x1="389.75" y1="230.62" x2="409.25" y2="230.62" stroke="#80a6ee" stroke-width="0.9"/>
<polygon points="399.5,228.58 401.54,232.25 397.46,232.25" fill="#1f5fe0"/>
<text x="411.9" y="233.82" font-family='"Liberation Serif", serif' font-weight="bold" font-size="9" letter-spacing="-0.6" fill="#111">30mm</text>
<line x1="389.75" y1="241.48" x2="409.25" y2="241.48" stroke="#83c8a0" stroke-width="0.9"/>
<polygon points="399.5,243.52 401.54,239.85 397.46,239.85" fill="#1f9e55"/>
<text x="411.9" y="244.68" font-family='"Liberation Serif", serif' font-weight="bold" font-size="9" letter-spacing="-0.6" fill="#111">40mm</text>
<line x1="389.75" y1="252.34" x2="409.25" y2="252.34" stroke="#cdb0f5" stroke-width="0.9"/>
<polygon points="399.5,250.38 401.45,252.34 399.5,254.3 397.55,252.34" fill="#a862ea"/>
<text x="411.9" y="255.54" font-family='"Liberation Serif", serif' font-weight="bold" font-size="9" letter-spacing="-0.6" fill="#111">50mm</text>
<line x1="389.75" y1="263.2" x2="409.25" y2="263.2" stroke="#e6c774" stroke-width="0.9"/>
<polygon points="397.46,263.2 401.13,261.16 401.13,265.24" fill="#d4a010"/>
<text x="411.9" y="266.4" font-family='"Liberation Serif", serif' font-weight="bold" font-size="9" letter-spacing="-0.6" fill="#111">60mm</text>
<line x1="389.75" y1="274.06" x2="409.25" y2="274.06" stroke="#6ce2e6" stroke-width="0.9"/>
<polygon points="401.54,274.06 397.87,272.02 397.87,276.1" fill="#12cdd6"/>
<text x="411.9" y="277.26" font-family='"Liberation Serif", serif' font-weight="bold" font-size="9" letter-spacing="-0.6" fill="#111">70mm</text>
<line x1="389.75" y1="284.92" x2="409.25" y2="284.92" stroke="#ae9393" stroke-width="0.9"/>
<circle cx="399.5" cy="284.92" r="1.57" fill="#6e3e3e"/>
<text x="411.9" y="288.12" font-family='"Liberation Serif", serif' font-weight="bold" font-size="9" letter-spacing="-0.6" fill="#111">76mm</text>
<text x="351.15" y="382.2" text-anchor="middle" font-family='"Liberation Sans", sans-serif' font-size="16" fill="#111" stroke="#111" stroke-width="0.3"><tspan dy="-1.5">(</tspan><tspan font-size="15.5" stroke-width="0.6" dx="0.7" dy="1.9">e</tspan><tspan dx="2.2" dy="-1.9">)</tspan></text>
<g stroke="#bdbdbd" stroke-width="0.8" stroke-dasharray="0.9,1.2,1.8,1.2"><line x1="519.04" y1="201.5" x2="519.04" y2="335"/><line x1="558.86" y1="201.5" x2="558.86" y2="335"/><line x1="598.67" y1="201.5" x2="598.67" y2="335"/><line x1="638.49" y1="201.5" x2="638.49" y2="335"/><line x1="511" y1="320.5" x2="678.3" y2="320.5"/><line x1="511" y1="290.5" x2="678.3" y2="290.5"/><line x1="511" y1="260.5" x2="678.3" y2="260.5"/><line x1="511" y1="230.9" x2="678.3" y2="230.9"/></g>
<path d="M511 201.5H678.3V335" fill="none" stroke="#8e8e8e" stroke-width="1.0"/>
<path d="M511 201.5V335H678.3" fill="none" stroke="#888" stroke-width="1.0"/>
<g stroke="#555" stroke-width="1.0"><line x1="519.04" y1="335" x2="519.04" y2="337.6"/><line x1="558.86" y1="335" x2="558.86" y2="337.6"/><line x1="598.67" y1="335" x2="598.67" y2="337.6"/><line x1="638.49" y1="335" x2="638.49" y2="337.6"/><line x1="678.3" y1="335" x2="678.3" y2="337.6"/><line x1="511" y1="335" x2="511" y2="337.6"/><line x1="508.2" y1="320.5" x2="511" y2="320.5"/><line x1="508.2" y1="290.5" x2="511" y2="290.5"/><line x1="508.2" y1="260.5" x2="511" y2="260.5"/><line x1="508.2" y1="230.9" x2="511" y2="230.9"/><line x1="508.2" y1="201.5" x2="511" y2="201.5"/></g>
<g font-family='"Liberation Serif", serif' font-weight="bold" font-size="9" letter-spacing="-0.2" fill="#111" stroke="#111" stroke-width="0.2"><text x="519.04" y="345.8" text-anchor="middle">0</text><text x="558.86" y="345.8" text-anchor="middle">50</text><text x="598.67" y="345.8" text-anchor="middle">100</text><text x="638.49" y="345.8" text-anchor="middle">150</text><text x="678.3" y="345.8" text-anchor="middle">200</text><text x="506.6" y="323" text-anchor="end">200</text><text x="506.6" y="293" text-anchor="end">400</text><text x="506.6" y="263" text-anchor="end">600</text><text x="506.6" y="233.4" text-anchor="end">800</text><text x="506.6" y="204" text-anchor="end">1000</text></g>
<text x="594.8" y="358" text-anchor="middle" font-family='"Liberation Serif", serif' font-weight="bold" font-size="8.5" letter-spacing="-0.08" fill="#111">Strain (&#956;&#949;)</text>
<text transform="translate(485.3 268.3) rotate(-90)" x="0" y="0" text-anchor="middle" font-family='"Liberation Serif", serif' font-size="9" letter-spacing="0.05" fill="#111" stroke="#111" stroke-width="0.22">Height (mm)</text>
<polyline points="519,212.3 521.5,250.4 524.3,289 548.6,327.3" fill="none" stroke="#8c8c8c" stroke-width="0.9"/>
<rect x="517.4" y="210.7" width="3.2" height="3.2" fill="#383838"/><rect x="519.9" y="248.8" width="3.2" height="3.2" fill="#383838"/><rect x="522.7" y="287.4" width="3.2" height="3.2" fill="#383838"/><rect x="547" y="325.7" width="3.2" height="3.2" fill="#383838"/>
<polyline points="519,212.3 520.3,250.4 522.6,289 603.2,327.3" fill="none" stroke="#f78d8d" stroke-width="0.9"/>
<circle cx="519" cy="212.3" r="1.85" fill="#f23c3c"/><circle cx="520.3" cy="250.4" r="1.85" fill="#f23c3c"/><circle cx="522.6" cy="289" r="1.85" fill="#f23c3c"/><circle cx="603.2" cy="327.3" r="1.85" fill="#f23c3c"/>
<polyline points="519,212.3 522.2,250.4 521,289 653.5,327.3" fill="none" stroke="#80a6ee" stroke-width="0.9"/>
<polygon points="519,209.9 521.4,214.22 516.6,214.22" fill="#1f5fe0"/><polygon points="522.2,248 524.6,252.32 519.8,252.32" fill="#1f5fe0"/><polygon points="521,286.6 523.4,290.92 518.6,290.92" fill="#1f5fe0"/><polygon points="653.5,324.9 655.9,329.22 651.1,329.22" fill="#1f5fe0"/>
<rect x="618.85" y="206.5" width="54.95" height="33.4" fill="#fff" stroke="#a2a2a2" stroke-width="1.15"/>
<line x1="620.4" y1="211.9" x2="640.2" y2="211.9" stroke="#8c8c8c" stroke-width="0.9"/>
<rect x="628.84" y="210.54" width="2.72" height="2.72" fill="#383838"/>
<text x="642.6" y="215.1" font-family='"Liberation Serif", serif' font-size="9" letter-spacing="-0.45" fill="#3a3a3a">5mm</text>
<line x1="620.4" y1="222.8" x2="640.2" y2="222.8" stroke="#f78d8d" stroke-width="0.9"/>
<circle cx="630.2" cy="222.8" r="1.57" fill="#f23c3c"/>
<text x="642.6" y="226" font-family='"Liberation Serif", serif' font-weight="bold" font-size="9" letter-spacing="-0.6" fill="#111">10mm</text>
<line x1="620.4" y1="233.7" x2="640.2" y2="233.7" stroke="#80a6ee" stroke-width="0.9"/>
<polygon points="630.2,231.66 632.24,235.33 628.16,235.33" fill="#1f5fe0"/>
<text x="642.6" y="236.9" font-family='"Liberation Serif", serif' font-weight="bold" font-size="9" letter-spacing="-0.35" fill="#111">13.7mm</text>
<text x="589.15" y="382.2" text-anchor="middle" font-family='"Liberation Sans", sans-serif' font-size="16" fill="#111" stroke="#111" stroke-width="0.3"><tspan dy="-1.5">(</tspan><tspan font-size="15.5" stroke-width="0.6" dx="0.7" dy="1.9">f</tspan><tspan dx="1" dy="-1.9">)</tspan></text></svg>
</body></html>
